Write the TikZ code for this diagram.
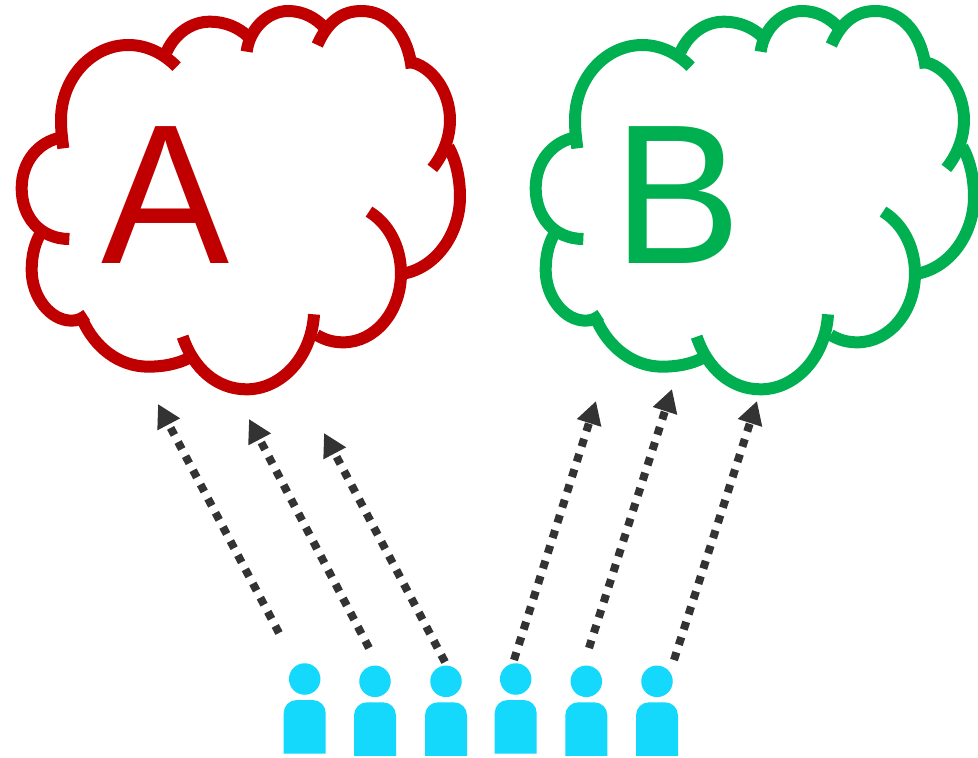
\documentclass[tikz,border=0pt]{standalone}
\usepackage{fontspec}
\setmainfont{Liberation Sans}
\usetikzlibrary{arrows.meta}
\definecolor{cloudred}{HTML}{C00000}
\definecolor{cloudgreen}{HTML}{00B050}
\definecolor{arrowgrey}{HTML}{333333}
\definecolor{personblue}{HTML}{14D8FC}
\tikzset{
  lobe/.style={line width=12pt,line cap=butt},
  bigletter/.style={inner sep=0pt,font=\fontsize{199}{199}\selectfont,anchor=base},
  voteline/.style={draw=arrowgrey,line width=8pt,dash pattern=on 8pt off 8pt,
    -{Triangle[length=23pt,width=24pt,fill=arrowgrey]}},
  head/.style={circle,fill=personblue,minimum size=31.5pt,inner sep=0pt},
  bodyshape/.style={fill=personblue}
}
\newcommand{\cloudlobes}[1]{%
  \begin{scope}[x=0.33333pt,y=-0.33333pt,#1]
  \draw[lobe] (190,445) .. controls (186,415) and (183,390) .. (183,360) .. controls (183,236) and (274,135) .. (385,135) .. controls (440,135) and (490,160) .. (530,200);
  \draw[lobe] (500,155) .. controls (525,100) and (575,65) .. (630,65) .. controls (675,65) and (715,82) .. (745,110);
  \draw[lobe] (740,155) .. controls (748,90) and (800,33) .. (865,33) .. controls (910,33) and (950,55) .. (975,85);
  \draw[lobe] (952,135) .. controls (985,60) and (1030,33) .. (1085,33) .. controls (1170,33) and (1225,110) .. (1235,205);
  \draw[lobe] (1225,185) .. controls (1295,195) and (1350,275) .. (1350,360) .. controls (1350,420) and (1325,470) .. (1297,505);
  \draw[lobe] (1345,440) .. controls (1368,480) and (1380,535) .. (1380,590) .. controls (1380,700) and (1310,800) .. (1215,820);
  \draw[lobe] (1107,635) .. controls (1165,670) and (1203,740) .. (1203,820) .. controls (1203,935) and (1125,1027) .. (1030,1027) .. controls (1000,1027) and (975,1020) .. (950,1005);
  \draw[lobe] (942,943) .. controls (935,1070) and (845,1168) .. (740,1168) .. controls (650,1168) and (580,1105) .. (548,1010);
  \draw[lobe] (565,1075) .. controls (530,1092) and (490,1100) .. (445,1100) .. controls (355,1100) and (285,1040) .. (250,965);
  \draw[lobe] (260,945) .. controls (245,955) and (235,962) .. (215,962) .. controls (150,962) and (95,890) .. (95,810) .. controls (95,765) and (105,725) .. (125,695);
  \draw[lobe] (208,717) .. controls (120,717) and (65,650) .. (65,565) .. controls (65,485) and (115,425) .. (185,412);
  \end{scope}}
\newcommand{\person}[3]{%
  \node[head] (#1) at (#2,#3) {};
  \fill[bodyshape] (#2-21,#3+74.5) [rounded corners=13pt] -- (#2-21,#3+21) -- (#2+21,#3+21) [sharp corners] -- (#2+21,#3+74.5) -- cycle;}
\begin{document}
\begin{tikzpicture}[x=1pt,y=-1pt]
\useasboundingbox (0,0) rectangle (978,758);
% clouds
\cloudlobes{draw=cloudred}
\cloudlobes{draw=cloudgreen,xshift=514pt}
\node[bigletter,text=cloudred] (letterA) at (166,263) {\scalebox{0.965}[1]{A}};
\node[bigletter,text=cloudgreen] (letterB) at (678,263) {\scalebox{0.965}[1]{B}};
% people
\person{p1}{304.7}{679}
\person{p2}{375}{681.3}
\person{p3}{446}{681.3}
\person{p4}{515.7}{679}
\person{p5}{586.3}{681.3}
\person{p6}{657}{681.3}
% arrows
\coordinate (s1) at (279,633); \coordinate (t1) at (158,404);
\coordinate (s2) at (369,648); \coordinate (t2) at (249,419);
\coordinate (s3) at (445,662); \coordinate (t3) at (324,433);
\coordinate (s4) at (514,660); \coordinate (t4) at (596,401);
\coordinate (s5) at (589,648); \coordinate (t5) at (672,389);
\coordinate (s6) at (674,660); \coordinate (t6) at (757,401);
\foreach \i in {1,...,6}{\draw[voteline] (s\i) -- (t\i);}
\end{tikzpicture}
\end{document}
